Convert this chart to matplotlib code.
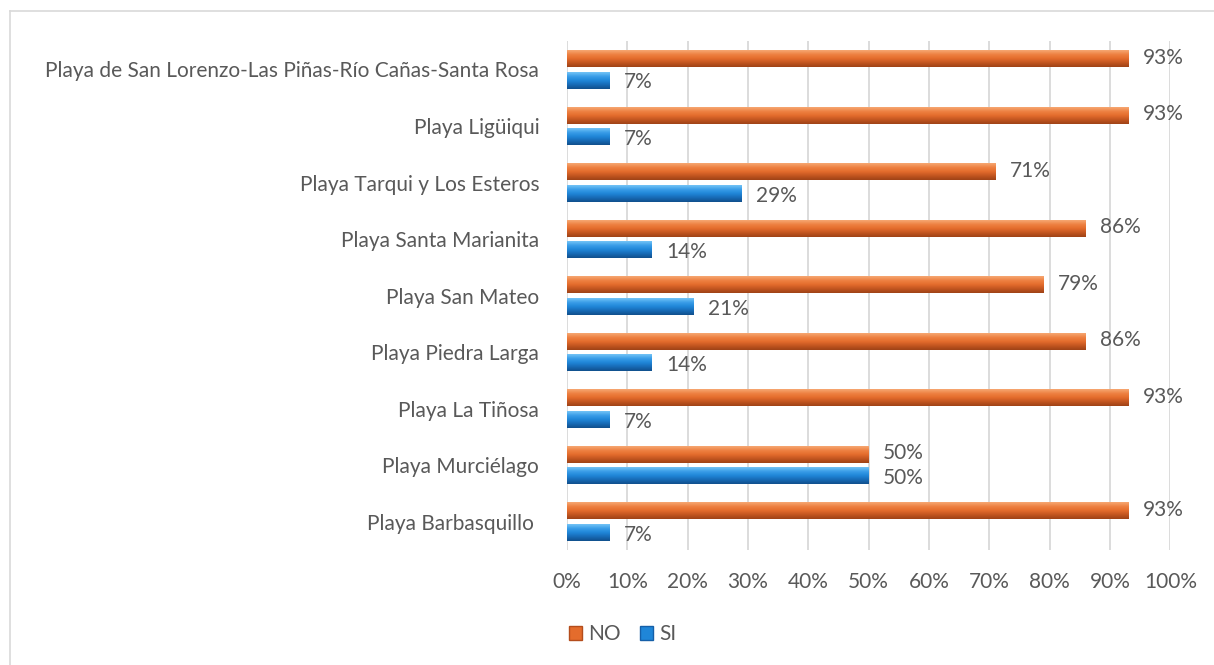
import numpy as np
import matplotlib.pyplot as plt
from matplotlib.patches import Patch
from matplotlib.lines import Line2D
from matplotlib.colors import LinearSegmentedColormap

plt.rcParams['font.family'] = ['Lato', 'DejaVu Sans']

# Data (bottom to top, as drawn)
playas = ['Playa Barbasquillo ', 'Playa Murciélago', 'Playa La Tiñosa',
          'Playa Piedra Larga', 'Playa San Mateo', 'Playa Santa Marianita',
          'Playa Tarqui y Los Esteros', 'Playa Ligüiqui',
          'Playa de San Lorenzo-Las Piñas-Río Cañas-Santa Rosa']
no_vals = [93, 50, 93, 86, 79, 86, 71, 93, 93]
si_vals = [7, 50, 7, 14, 21, 14, 29, 7, 7]
x_ticks = [0, 10, 20, 30, 40, 50, 60, 70, 80, 90, 100]

text_col = '#595959'
grid_col = '#D9D9D9'
fs = 15

# top -> bottom shading of the bevelled bars
orange = LinearSegmentedColormap.from_list(
    'o', ['#9E4216', '#C25520', '#E46C2C', '#EE8142', '#F6A873'])
blue = LinearSegmentedColormap.from_list(
    'b', ['#114F8C', '#176AB5', '#1F86D8', '#3A9DE8', '#74C4F6'])

fig = plt.figure(figsize=(12.14, 6.65), dpi=100)
ax = fig.add_axes([0.467, 0.173, 0.497, 0.765])

y = np.arange(len(playas))
h = 0.3
off = 0.19
grad = np.linspace(0, 1, 64).reshape(-1, 1)


def bar3d(yc, vals, cmap, base):
    bars = ax.barh(yc, vals, height=h, color=base, zorder=3)
    for b in bars:
        x0, y0 = b.get_x(), b.get_y()
        im = ax.imshow(grad, cmap=cmap, aspect='auto', origin='lower',
                       extent=[x0, x0 + b.get_width(), y0, y0 + b.get_height()],
                       zorder=4, interpolation='bicubic')
        im.set_clip_path(b)


bar3d(y + off, no_vals, orange, '#E46C2C')
bar3d(y - off, si_vals, blue, '#1F86D8')

for yi, v in zip(y, no_vals):
    ax.text(v + 2.4, yi + off + 0.02, f'{v}%', va='center', ha='left',
            fontsize=fs, color=text_col, zorder=5)
for yi, v in zip(y, si_vals):
    ax.text(v + 2.4, yi - off - 0.04, f'{v}%', va='center', ha='left',
            fontsize=fs, color=text_col, zorder=5)

ax.set_xlim(0, 100)
ax.set_ylim(-0.5, len(playas) - 0.5)
ax.set_xticks(x_ticks)
ax.set_xticklabels([f'{t}%' for t in x_ticks])
ax.set_yticks(y)
ax.set_yticklabels(playas)
ax.tick_params(axis='both', length=0, labelsize=fs, colors=text_col)
ax.tick_params(axis='x', pad=16)
ax.tick_params(axis='y', pad=20)
ax.grid(axis='x', color=grid_col, linewidth=1.3, zorder=0)
for s in ax.spines.values():
    s.set_visible(False)

handles = [Patch(facecolor='#E46C2C', edgecolor='#B44D1C', label='NO'),
           Patch(facecolor='#1F86D8', edgecolor='#155FA8', label='SI')]
fig.legend(handles=handles, loc='center', bbox_to_anchor=(0.513, 0.046),
           ncol=2, frameon=False, fontsize=fs, handlelength=0.65,
           handleheight=0.65, handletextpad=0.3, columnspacing=0.9,
           labelcolor=text_col)

# outer chart border (only top and left edges fall inside the image)
fig.add_artist(Line2D([10 / 1214, 1], [1 - 11 / 665, 1 - 11 / 665],
                      color='#D9D9D9', lw=1.2, transform=fig.transFigure))
fig.add_artist(Line2D([10 / 1214, 10 / 1214], [0, 1 - 11 / 665],
                      color='#D9D9D9', lw=1.2, transform=fig.transFigure))

fig.savefig('out.png', dpi=100, facecolor='white')
